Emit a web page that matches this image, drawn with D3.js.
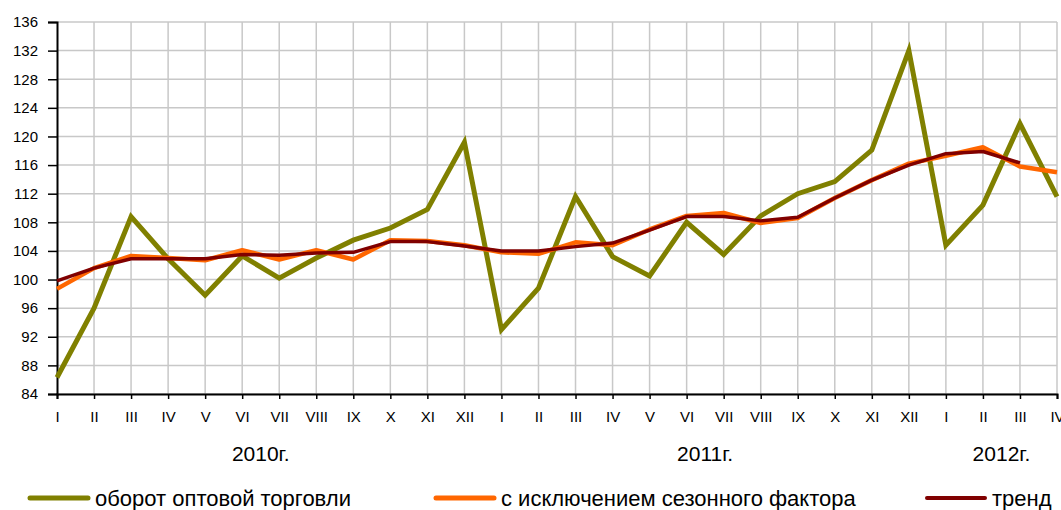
<!DOCTYPE html>
<html>
<head>
<meta charset="utf-8">
<script src="https://cdn.jsdelivr.net/npm/d3@7/dist/d3.min.js"></script>
<style>
  html, body { margin: 0; padding: 0; background: #fff; }
  svg { display: block; }
  text { font-family: "Liberation Sans", Arial, sans-serif; fill: #000; }
</style>
</head>
<body>
<svg id="chart" width="1061" height="510"></svg>
<script>
// ---- data ----
const monthLabels = ["I","II","III","IV","V","VI","VII","VIII","IX","X","XI","XII",
                     "I","II","III","IV","V","VI","VII","VIII","IX","X","XI","XII",
                     "I","II","III","IV"];
const yearLabels = ["2010г.", "2011г.", "2012г."];
const yearSpans = [[0, 11], [12, 23], [24, 27]];
const turnover = [86.3, 96.0, 108.8, 102.9, 97.8, 103.3, 100.2, 103.0, 105.5, 107.2, 109.8, 119.2,
                  93.0, 98.8, 111.6, 103.2, 100.5, 108.0, 103.5, 108.9, 112.0, 113.7, 118.1, 132.0,
                  104.8, 110.4, 121.8, 111.6];
const seasonAdj = [98.7, 101.6, 103.3, 103.0, 102.7, 104.1, 102.8, 104.1, 102.8, 105.5, 105.4, 104.8,
                   103.8, 103.6, 105.2, 104.8, 107.0, 108.9, 109.3, 107.9, 108.6, 111.4, 113.9, 116.2,
                   117.3, 118.5, 115.8, 115.0];
const trend = [99.8, 101.6, 102.9, 102.9, 102.9, 103.5, 103.4, 103.7, 103.8, 105.3, 105.3, 104.7,
               104.0, 104.0, 104.6, 105.1, 106.9, 108.8, 108.8, 108.2, 108.7, 111.4, 113.9, 116.0,
               117.6, 117.9, 116.3];
const yTicks = [84, 88, 92, 96, 100, 104, 108, 112, 116, 120, 124, 128, 132, 136];
const seriesNames = ["оборот оптовой торговли", "с исключением сезонного фактора", "тренд"];

// ---- chart ----
(function () {
const svg = d3.select("#chart");
const mLeft = 57, mRight = 1057, mTop = 22, mBottom = 394;

const x = d3.scalePoint().domain(d3.range(monthLabels.length)).range([mLeft, mRight]);
const y = d3.scaleLinear().domain([84, 136]).range([mBottom, mTop]);

// grid
const grid = svg.append("g");
grid.selectAll("line.h").data(yTicks).join("line")
  .attr("class", "h")
  .attr("x1", mLeft).attr("x2", mRight)
  .attr("y1", d => y(d)).attr("y2", d => y(d))
  .attr("stroke", "#c8c8c8").attr("stroke-width", 1.5);
grid.selectAll("line.v").data(d3.range(1, monthLabels.length)).join("line")
  .attr("class", "v")
  .attr("x1", d => x(d)).attr("x2", d => x(d))
  .attr("y1", mTop).attr("y2", mBottom)
  .attr("stroke", "#c8c8c8").attr("stroke-width", 1.5);

// axes
const yAxis = d3.axisLeft(y).tickValues(yTicks).tickSize(9).tickPadding(10);
const gy = svg.append("g").attr("transform", `translate(${mLeft},0)`).call(yAxis);
gy.select(".domain").attr("stroke", "#000").attr("stroke-width", 2);
gy.selectAll(".tick line").attr("stroke", "#000").attr("stroke-width", 1.5);
gy.selectAll(".tick text").style("font-size", "15px").style("font-family", "Liberation Sans, Arial, sans-serif");

const xAxis = d3.axisBottom(x).tickFormat(i => monthLabels[i]).tickSize(5).tickPadding(12);
const gx = svg.append("g").attr("transform", `translate(0,${mBottom})`).call(xAxis);
gx.select(".domain").attr("stroke", "#000").attr("stroke-width", 2);
gx.selectAll(".tick line").attr("stroke", "#000").attr("stroke-width", 1.5);
gx.selectAll(".tick text").style("font-size", "15px").style("font-family", "Liberation Sans, Arial, sans-serif");

// year labels
svg.append("g").selectAll("text").data(yearLabels).join("text")
  .attr("x", (d, i) => (x(yearSpans[i][0]) + x(yearSpans[i][1])) / 2)
  .attr("y", 461)
  .attr("text-anchor", "middle")
  .style("font-size", "21px")
  .text(d => d);

// lines
const line = d3.line().x((d, i) => x(i)).y(d => y(d));
svg.append("path").datum(turnover).attr("d", line)
  .attr("fill", "none").attr("stroke", "#808000").attr("stroke-width", 5).attr("stroke-linejoin", "miter");
svg.append("path").datum(seasonAdj).attr("d", line)
  .attr("fill", "none").attr("stroke", "#ff6600").attr("stroke-width", 4.5).attr("stroke-linejoin", "round");
svg.append("path").datum(trend).attr("d", line)
  .attr("fill", "none").attr("stroke", "#800000").attr("stroke-width", 3.5).attr("stroke-linejoin", "round");

// legend
const legendColors = ["#808000", "#ff6600", "#800000"];
const legendX = [30, 436, 927];
const lg = svg.append("g").selectAll("g").data(seriesNames).join("g")
  .attr("transform", (d, i) => `translate(${legendX[i]},498)`);
lg.append("line").attr("x1", 0).attr("x2", 58).attr("y1", 0).attr("y2", 0)
  .attr("stroke", (d, i) => legendColors[i]).attr("stroke-width", (d, i) => i === 2 ? 4 : 5)
  .attr("stroke-linecap", "round");
lg.append("text").attr("x", 65).attr("y", 8).style("font-size", "22px").text(d => d);
})();
</script>
</body>
</html>
